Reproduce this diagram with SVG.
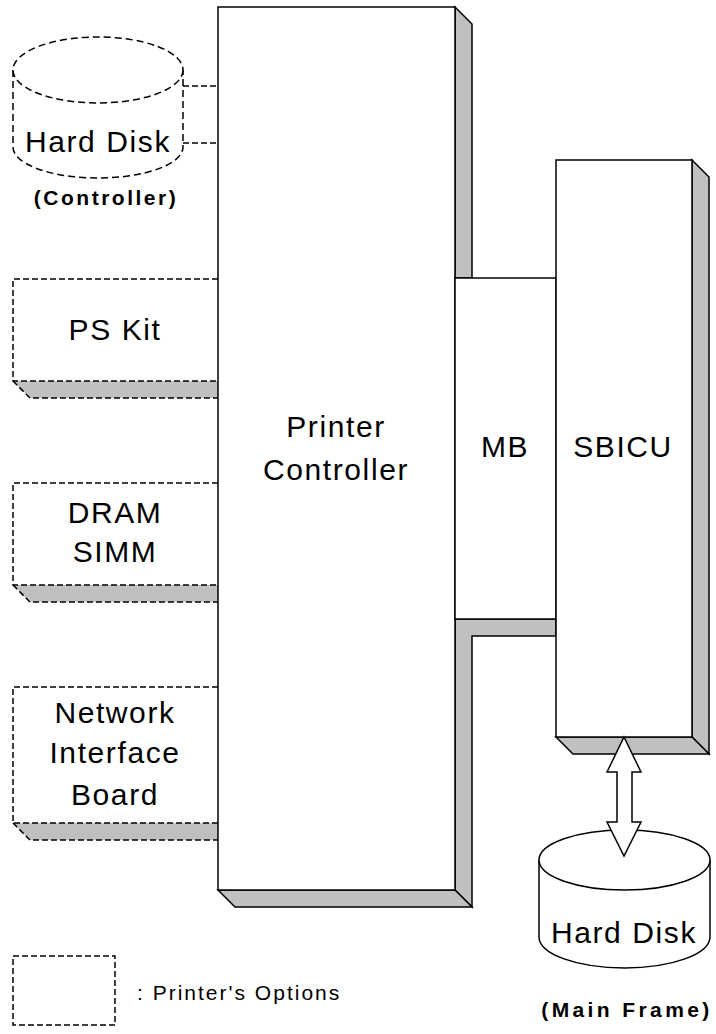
<svg xmlns="http://www.w3.org/2000/svg" width="716" height="1034" viewBox="0 0 716 1034">
<style>
.bg{fill:#fff}
.solid{fill:#fff;stroke:#000;stroke-width:1.5}
.shade{fill:#c0c0c0;stroke:#000;stroke-width:1.5;stroke-linejoin:miter}
.dash{fill:none;stroke:#000;stroke-width:1.5;stroke-dasharray:6 3}
.dashw{fill:#fff;stroke:#000;stroke-width:1.5;stroke-dasharray:7 4}
.dashs{fill:#c0c0c0;stroke:none}
.t{font-family:"Liberation Sans",Arial,sans-serif;font-size:30px;letter-spacing:1.6px;text-anchor:middle;fill:#000}
.b{font-family:"Liberation Sans",Arial,sans-serif;font-size:21px;font-weight:bold;text-anchor:middle;fill:#000}
.s{font-family:"Liberation Sans",Arial,sans-serif;font-size:21px;letter-spacing:2px;fill:#000}
</style>
<rect class="bg" x="0" y="0" width="716" height="1034"/>

<g id="hdd-controller">
  <path class="dashw" d="M13,70 L13,147 A85,31 0 0 0 183,147 L183,70"/>
  <ellipse class="dashw" cx="98" cy="70" rx="85" ry="33"/>
  <text class="t" x="98" y="152">Hard Disk</text>
  <text class="b" x="106" y="205" style="letter-spacing:2.5px">(Controller)</text>
</g>

<g id="ps-kit">
  <polygon class="dashs" points="13,381 30,398 218,398 218,381"/>
  <path class="dash" d="M218,279 L13,279 L13,381 L218,381 M13,381 L30,398 L218,398"/>
  <text class="t" x="115" y="340">PS Kit</text>
</g>

<g id="dram-simm">
  <polygon class="dashs" points="13,585 30,602 218,602 218,585"/>
  <path class="dash" d="M218,483 L13,483 L13,585 L218,585 M13,585 L30,602 L218,602"/>
  <text class="t" x="115" y="523">DRAM</text>
  <text class="t" x="115" y="562">SIMM</text>
</g>

<g id="network-board">
  <polygon class="dashs" points="13,823 30,840 218,840 218,823"/>
  <path class="dash" d="M218,687 L13,687 L13,823 L218,823 M13,823 L30,840 L218,840"/>
  <text class="t" x="115" y="723">Network</text>
  <text class="t" x="115" y="763">Interface</text>
  <text class="t" x="115" y="805">Board</text>
</g>

<g id="printer-controller">
  <polygon class="shade" points="455,7 472,24 472,278 455,278"/>
  <polygon class="shade" points="455,619 556,619 556,636 472,636 472,907 455,890"/>
  <polygon class="shade" points="218,890 455,890 472,907 235,907"/>
  <rect class="solid" x="218" y="7" width="237" height="883"/>
  <text class="t" x="336" y="437">Printer</text>
  <text class="t" x="336" y="480">Controller</text>
</g>

<g id="mb">
  <rect class="solid" x="455" y="278" width="101" height="341"/>
  <text class="t" x="505" y="457">MB</text>
</g>

<g id="sbicu">
  <polygon class="shade" points="692,160 709,177 709,754 692,737"/>
  <polygon class="shade" points="556,737 692,737 709,754 573,754"/>
  <rect class="solid" x="556" y="160" width="136" height="577"/>
  <text class="t" x="623" y="457">SBICU</text>
</g>

<g id="hdd-mainframe">
  <path class="solid" d="M539,860 L539,937 A85.5,31 0 0 0 710,937 L710,860"/>
  <ellipse class="solid" cx="624.5" cy="860" rx="85.5" ry="30"/>
  <text class="t" x="624" y="943">Hard Disk</text>
  <text class="b" x="627" y="1017" style="letter-spacing:3.4px">(Main Frame)</text>
</g>

<g id="legend">
  <rect class="dash" x="13" y="956" width="102" height="69"/>
  <text class="s" x="137" y="1000">: Printer's Options</text>
</g>

<g id="connectors">
  <path class="dash" d="M183,86 L218,86 M183,143 L218,143"/>
  <polygon class="solid" points="624,737 641,772 632,772 632,822 641,822 624,856 607,822 617,822 617,772 607,772"/>
</g>
</svg>
